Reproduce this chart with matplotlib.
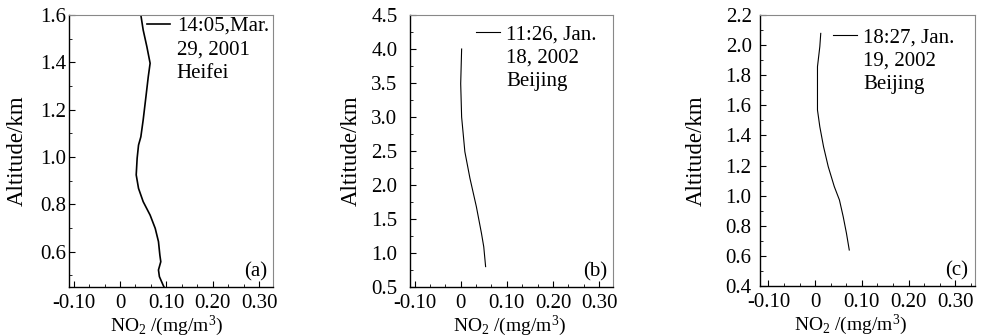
import matplotlib
matplotlib.use("Agg")
import matplotlib.pyplot as plt
from matplotlib.ticker import AutoMinorLocator
from matplotlib.lines import Line2D

plt.rcParams['font.family'] = ['Liberation Serif', 'DejaVu Serif']
plt.rcParams['mathtext.fontset'] = 'custom'
plt.rcParams['mathtext.rm'] = 'Liberation Serif'
plt.rcParams['mathtext.it'] = 'Liberation Serif:italic'
plt.rcParams['font.size'] = 15

# --- data ---
no2_a = [0.045, 0.050, 0.058, 0.065, 0.061, 0.056, 0.050, 0.045, 0.040, 0.037,
         0.035, 0.040, 0.050, 0.065, 0.076, 0.083, 0.086, 0.088, 0.083, 0.085,
         0.093, 0.095]
alt_a = [1.600, 1.537, 1.466, 1.396, 1.339, 1.255, 1.156, 1.085, 1.050, 0.994,
         0.924, 0.867, 0.811, 0.754, 0.698, 0.642, 0.585, 0.557, 0.522, 0.494,
         0.458, 0.450]

no2_b = [0.002, 0.000, 0.002, 0.009, 0.020, 0.034, 0.045, 0.050, 0.054]
alt_b = [4.00, 3.49, 3.00, 2.49, 2.10, 1.68, 1.29, 1.09, 0.80]

no2_c = [0.012, 0.010, 0.005, 0.005, 0.005, 0.010, 0.018, 0.028, 0.041, 0.052,
         0.060, 0.067, 0.073]
alt_c = [2.078, 1.990, 1.857, 1.680, 1.569, 1.458, 1.325, 1.193, 1.060, 0.971,
         0.861, 0.750, 0.639]

x_ticks = [-0.10, 0.0, 0.10, 0.20, 0.30]
x_tick_labels = ['-0.10', '0', '0.10', '0.20', '0.30']

legend_a = ['14:05,Mar.', '29, 2001', 'Heifei']
legend_b = ['11:26, Jan.', '18, 2002', 'Beijing']
legend_c = ['18:27, Jan.', '19, 2002', 'Beijing']

panels = [
    dict(x=no2_a, y=alt_a, xlim=(-0.11, 0.33), ylim=(0.45, 1.6), yticks=(0.6, 1.6, 0.2),
         legend=legend_a, tag='(a)', lw=1.2, pos=[0.0703, 0.1458, 0.2080, 0.8095],
         leg_anchor=(0.38, 0.995), ypad=2, ylab_x=-0.20, xlab_x=0.48),
    dict(x=no2_b, y=alt_b, xlim=(-0.11, 0.33), ylim=(0.5, 4.5), yticks=(0.5, 4.5, 0.5),
         legend=legend_b, tag='(b)', lw=0.8, pos=[0.4179, 0.1458, 0.2069, 0.8095],
         leg_anchor=(0.325, 0.963), ypad=9, ylab_x=-0.236, xlab_x=0.49),
    dict(x=no2_c, y=alt_c, xlim=(-0.118, 0.342), ylim=(0.4, 2.2), yticks=(0.4, 2.2, 0.2),
         legend=legend_c, tag='(c)', lw=0.8, pos=[0.7747, 0.1488, 0.2192, 0.8065],
         leg_anchor=(0.34, 0.952), ypad=6, ylab_x=-0.247, xlab_x=0.42),
]

fig = plt.figure(figsize=(9.81, 3.36), dpi=100)

for p in panels:
    ax = fig.add_axes(p['pos'])
    ax.plot(p['x'], p['y'], color='black', linewidth=p['lw'])

    ax.set_xlim(*p['xlim'])
    ax.set_ylim(*p['ylim'])
    ax.set_xticks(x_ticks)
    ax.set_xticklabels(x_tick_labels)
    lo, hi, step = p['yticks']
    yt = []
    v = lo
    while v <= hi + 1e-9:
        yt.append(round(v, 2))
        v += step
    ax.set_yticks(yt)
    ax.set_yticklabels(['{:.1f}'.format(t) for t in yt])
    ax.xaxis.set_minor_locator(AutoMinorLocator(3))
    ax.yaxis.set_minor_locator(AutoMinorLocator(2))
    ax.tick_params(which='both', direction='in', top=False, right=False, labelsize=15)
    ax.tick_params(axis='x', pad=5)
    ax.tick_params(axis='y', pad=p['ypad'])
    ax.tick_params(which='major', length=4, width=0.8)
    ax.tick_params(which='minor', length=2, width=0.6)

    for s in ('left', 'bottom'):
        ax.spines[s].set_linewidth(1.0)
    for s in ('top', 'right'):
        ax.spines[s].set_color('#888888')
        ax.spines[s].set_linewidth(0.8)

    ax.set_ylabel('Altitude/km', fontsize=16.5)
    ax.yaxis.set_label_coords(p['ylab_x'], 0.5)
    ax.set_xlabel('NO$_2$ /(mg/m$^3$)', fontsize=14)
    ax.xaxis.set_label_coords(p['xlab_x'], -0.097)

    handles = [Line2D([], [], color='black', linewidth=p['lw']),
               Line2D([], [], color='none'),
               Line2D([], [], color='none')]
    ax.legend(handles, p['legend'], loc='upper left', bbox_to_anchor=p['leg_anchor'],
              frameon=False, fontsize=15, handlelength=1.15, handletextpad=0.3,
              labelspacing=0.18, borderpad=0, borderaxespad=0)

    ax.text(0.97, 0.02, p['tag'], transform=ax.transAxes, ha='right', va='bottom',
            fontsize=15)

fig.savefig('out.png', dpi=100)
